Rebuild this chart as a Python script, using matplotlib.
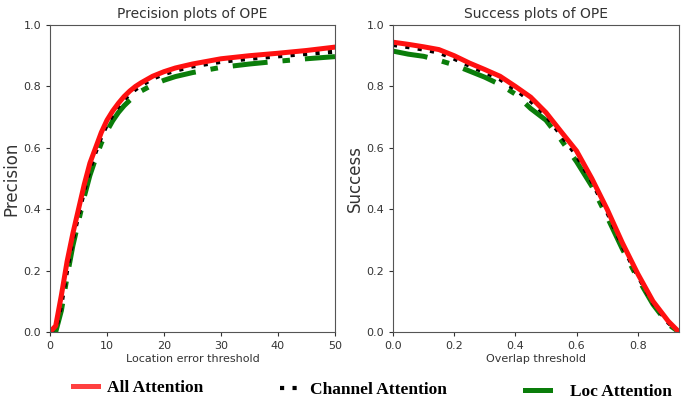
import matplotlib
matplotlib.use("Agg")
import matplotlib.pyplot as plt
from matplotlib.lines import Line2D

# ---- data ----
prec_x = [0, 1, 2, 3, 4, 5, 6, 7, 8, 9, 10, 11, 12, 13, 14, 15, 16, 18, 20, 22, 25, 30, 35, 40, 45, 50]
prec_all = [0, 0.02, 0.12, 0.23, 0.32, 0.40, 0.48, 0.55, 0.60, 0.65, 0.69, 0.72, 0.745, 0.767, 0.785, 0.80, 0.812, 0.833, 0.848, 0.86, 0.873, 0.89, 0.90, 0.908, 0.917, 0.928]
prec_channel = [0, 0.005, 0.09, 0.20, 0.30, 0.38, 0.46, 0.53, 0.585, 0.635, 0.675, 0.707, 0.735, 0.757, 0.775, 0.79, 0.803, 0.825, 0.84, 0.851, 0.865, 0.88, 0.89, 0.898, 0.906, 0.913]
prec_loc = [0, 0.0, 0.07, 0.18, 0.28, 0.36, 0.44, 0.51, 0.565, 0.615, 0.655, 0.688, 0.715, 0.737, 0.755, 0.771, 0.785, 0.805, 0.82, 0.832, 0.845, 0.862, 0.873, 0.882, 0.89, 0.897]

succ_x = [0, 0.05, 0.1, 0.15, 0.2, 0.25, 0.3, 0.35, 0.4, 0.45, 0.5, 0.55, 0.6, 0.65, 0.7, 0.75, 0.8, 0.85, 0.9, 0.935]
succ_all = [0.944, 0.937, 0.929, 0.92, 0.90, 0.876, 0.855, 0.833, 0.80, 0.765, 0.715, 0.652, 0.59, 0.50, 0.40, 0.29, 0.19, 0.10, 0.035, 0.0]
succ_channel = [0.935, 0.928, 0.92, 0.91, 0.89, 0.867, 0.846, 0.823, 0.79, 0.752, 0.705, 0.64, 0.575, 0.49, 0.39, 0.28, 0.183, 0.095, 0.03, 0.0]
succ_loc = [0.915, 0.905, 0.898, 0.885, 0.87, 0.85, 0.83, 0.806, 0.775, 0.728, 0.69, 0.625, 0.555, 0.475, 0.375, 0.27, 0.175, 0.09, 0.025, 0.0]

labels = ["All Attention", "Channel Attention", "Loc Attention"]

fig = plt.figure(figsize=(6.85, 4.0), dpi=100)
ax1 = fig.add_axes([50/685, 1-332/400, 285/685, 307/400])
ax2 = fig.add_axes([393/685, 1-332/400, 286/685, 307/400])

def draw(ax, x, a, c, l):
    ax.plot(x, l, color="#0a7d0a", lw=3.6, dashes=(7, 3, 1.5, 3))
    ax.plot(x, c, color="black", lw=3.0, dashes=(1, 2))
    ax.plot(x, a, color="#ff1010", lw=3.6)

draw(ax1, prec_x, prec_all, prec_channel, prec_loc)
draw(ax2, succ_x, succ_all, succ_channel, succ_loc)

tc = "#333333"
for ax in (ax1, ax2):
    ax.set_ylim(0, 1.0)
    ax.tick_params(labelsize=8, colors=tc, length=3)
    for s in ax.spines.values():
        s.set_color("#555555")

ax1.set_xlim(0, 50)
ax1.set_xticks([0, 10, 20, 30, 40, 50])
ax2.set_xlim(0, 0.935)
ax2.set_xticks([0.0, 0.2, 0.4, 0.6, 0.8])
ax1.set_yticks([0, 0.2, 0.4, 0.6, 0.8, 1.0])
ax2.set_yticks([0, 0.2, 0.4, 0.6, 0.8, 1.0])

ax1.set_title("Precision plots of OPE", fontsize=10, color=tc, pad=5)
ax2.set_title("Success plots of OPE", fontsize=10, color=tc, pad=5)
ax1.set_xlabel("Location error threshold", fontsize=8, color=tc, labelpad=2)
ax2.set_xlabel("Overlap threshold", fontsize=8, color=tc, labelpad=2)
ax1.set_ylabel("Precision", fontsize=12, color=tc, labelpad=2)
ax2.set_ylabel("Success", fontsize=12, color=tc, labelpad=2)

lfont = {"family": "Liberation Serif", "weight": "bold", "size": 12.5}
h_all = Line2D([], [], color="#ff4040", lw=3.6)
h_ch = Line2D([], [], color="black", lw=3.0, dashes=(1, 2))
h_loc = Line2D([], [], color="#0a7d0a", lw=3.6)
for h, lab, x0, y0, hl, tp in [(h_all, labels[0], 73/685, 1-387.5/400, 1.43, 0.54),
                               (h_ch, labels[1], 280/685, 1-390/400, 1.15, 0.57),
                               (h_loc, labels[2], 525/685, 1-392/400, 1.43, 1.15)]:
    fig.legend([h], [lab], loc="center left", bbox_to_anchor=(x0, y0),
               frameon=False, prop=lfont, handlelength=hl, handletextpad=tp,
               borderpad=0, borderaxespad=0)

fig.savefig("out.png", dpi=100)
